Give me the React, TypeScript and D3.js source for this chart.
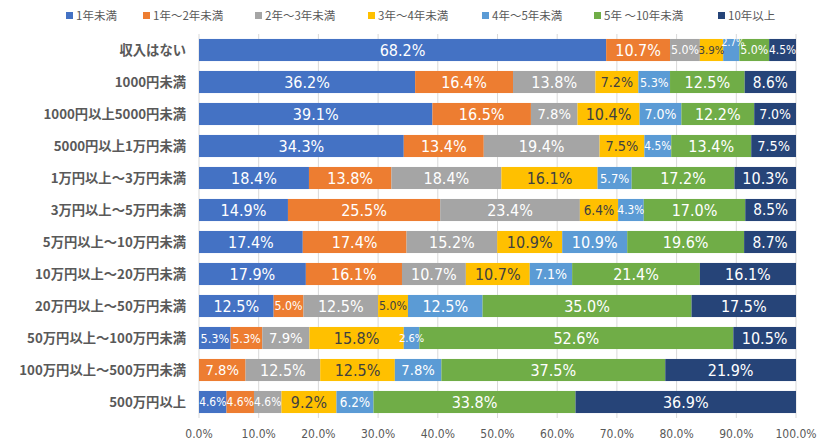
import * as d3 from "d3";

// income brackets (rows, top to bottom)
const categories = [
  "収入はない",
  "1000円未満",
  "1000円以上5000円未満",
  "5000円以上1万円未満",
  "1万円以上～3万円未満",
  "3万円以上～5万円未満",
  "5万円以上～10万円未満",
  "10万円以上～20万円未満",
  "20万円以上～50万円未満",
  "50万円以上～100万円未満",
  "100万円以上～500万円未満",
  "500万円以上",
];

const seriesNames = [
  "1年未満",
  "1年～2年未満",
  "2年～3年未満",
  "3年～4年未満",
  "4年～5年未満",
  "5年 ～10年未満",
  "10年以上",
];

// percentages per series, one value per row
const under1 = [68.2, 36.2, 39.1, 34.3, 18.4, 14.9, 17.4, 17.9, 12.5, 5.3, 0, 4.6];
const y1to2 = [10.7, 16.4, 16.5, 13.4, 13.8, 25.5, 17.4, 16.1, 5.0, 5.3, 7.8, 4.6];
const y2to3 = [5.0, 13.8, 7.8, 19.4, 18.4, 23.4, 15.2, 10.7, 12.5, 7.9, 12.5, 4.6];
const y3to4 = [3.9, 7.2, 10.4, 7.5, 16.1, 6.4, 10.9, 10.7, 5.0, 15.8, 12.5, 9.2];
const y4to5 = [2.7, 5.3, 7.0, 4.5, 5.7, 4.3, 10.9, 7.1, 12.5, 2.6, 7.8, 6.2];
const y5to10 = [5.0, 12.5, 12.2, 13.4, 17.2, 17.0, 19.6, 21.4, 35.0, 52.6, 37.5, 33.8];
const over10 = [4.5, 8.6, 7.0, 7.5, 10.3, 8.5, 8.7, 16.1, 17.5, 10.5, 21.9, 36.9];

const xTicks = [0, 0.1, 0.2, 0.3, 0.4, 0.5, 0.6, 0.7, 0.8, 0.9, 1.0];

const colors = ["#4472C4", "#ED7D31", "#A5A5A5", "#FFC000", "#5B9BD5", "#70AD47", "#264478"];

const seriesValues = [under1, y1to2, y2to3, y3to4, y4to5, y5to10, over10];

export default function App() {
  const width = 827;
  const height = 446;
  const margin = { top: 34, right: 31, bottom: 28, left: 199 };

  const rows = categories.map((c, i) => {
    const r: any = { cat: c };
    seriesNames.forEach((s, j) => (r[s] = seriesValues[j][i]));
    return r;
  });

  const stacked = d3.stack<any>().keys(seriesNames).offset(d3.stackOffsetExpand)(rows);

  const x = d3.scaleLinear().domain([0, 1]).range([margin.left, width - margin.right]);
  const y = d3
    .scaleBand()
    .domain(categories)
    .range([margin.top, height - margin.bottom])
    .paddingInner(0.31)
    .paddingOuter(0.155);

  const labelFont = "'Liberation Sans Narrow', 'DejaVu Sans Condensed', sans-serif";
  const jpFont = "'Noto Sans CJK JP', sans-serif";

  const legendX = [66, 143, 255, 368, 482, 594, 718];

  return (
    <svg
      width={width}
      height={height}
      style={{ position: "absolute", left: 0, top: 0, background: "#fff" }}
    >
      {/* gridlines */}
      {xTicks.map((t) => (
        <line
          key={t}
          x1={x(t)}
          x2={x(t)}
          y1={margin.top}
          y2={height - margin.bottom}
          stroke="#D9D9D9"
          strokeWidth={1}
        />
      ))}

      {/* bars */}
      {stacked.map((layer, j) => (
        <g key={layer.key} fill={colors[j]}>
          {layer.map((d, i) =>
            d[1] - d[0] > 0 ? (
              <rect
                key={i}
                x={x(d[0])}
                y={y(categories[i])}
                width={x(d[1]) - x(d[0])}
                height={y.bandwidth()}
              />
            ) : null
          )}
        </g>
      ))}

      {/* data labels */}
      {stacked.map((layer, j) => (
        <g key={"l" + layer.key}>
          {layer.map((d, i) => {
            const v = seriesValues[j][i];
            if (!v) return null;
            const w = x(d[1]) - x(d[0]);
            const txt = v.toFixed(1) + "%";
            // very thin segment squeezed between other thin ones: lift label
            const prev = j > 0 ? stacked[j - 1][i] : null;
            const prevW = prev ? x(prev[1]) - x(prev[0]) : 100;
            const squeezed = w < 17 && prevW < 30;
            const lift = squeezed ? -8 : 0;
            const fs = squeezed ? 10 : Math.max(11, Math.min(16, 8 + w / 7));
            return (
              <text
                key={i}
                x={(x(d[0]) + x(d[1])) / 2 + (squeezed ? 2 : 0)}
                y={y(categories[i])! + y.bandwidth() / 2 + lift}
                dy="0.36em"
                textAnchor="middle"
                fontFamily={labelFont}
                fontSize={fs}
                fill={j === 3 ? "#404040" : "#fff"}
              >
                {txt}
              </text>
            );
          })}
        </g>
      ))}

      {/* category labels */}
      {categories.map((c) => (
        <text
          key={c}
          x={margin.left - 13}
          y={y(c)! + y.bandwidth() / 2}
          dy="0.35em"
          textAnchor="end"
          fontFamily={jpFont}
          fontWeight="bold"
          fontSize={13.3}
          fill="#595959"
        >
          {c}
        </text>
      ))}

      {/* x axis labels */}
      {xTicks.map((t) => (
        <text
          key={"t" + t}
          x={x(t)}
          y={height - 8}
          textAnchor="middle"
          fontFamily={labelFont}
          fontSize={12}
          fill="#595959"
        >
          {(t * 100).toFixed(1) + "%"}
        </text>
      ))}

      {/* legend */}
      {seriesNames.map((s, j) => (
        <g key={"lg" + s} transform={`translate(${legendX[j]},16)`}>
          <rect x={0} y={-4} width={7} height={7} fill={colors[j]} />
          <text
            x={10}
            y={0}
            dy="0.35em"
            fontFamily={jpFont}
            fontSize={11.5}
            fill="#595959"
          >
            {s}
          </text>
        </g>
      ))}
    </svg>
  );
}
